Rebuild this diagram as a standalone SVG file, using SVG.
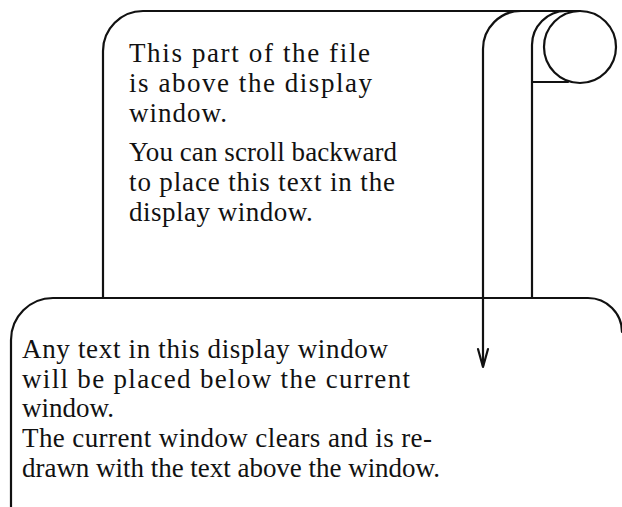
<svg xmlns="http://www.w3.org/2000/svg" width="622" height="507" viewBox="0 0 622 507">
<style>
.ln{fill:none;stroke:#111;stroke-width:2.2;stroke-linecap:round;stroke-linejoin:round}
.t{font-family:"Liberation Serif","Times New Roman",serif;font-size:27px;fill:#111}
</style>
<rect width="622" height="507" fill="#fff"/>
<g id="scroll-top">
<path class="ln" d="M103,298 V51 A40,40 0 0 1 143,11 H580"/>
<circle class="ln" cx="580" cy="47" r="36"/>
<path class="ln" d="M532,298 V45 A34,34 0 0 1 566,11"/>
<path class="ln" d="M532,82 H568"/>
<text class="t" x="129" y="62" textLength="241" lengthAdjust="spacing">This part of the file</text>
<text class="t" x="129" y="92" textLength="243" lengthAdjust="spacing">is above the display</text>
<text class="t" x="129" y="122" letter-spacing="1">window.</text>
<text class="t" x="129" y="161" textLength="268" lengthAdjust="spacing">You can scroll backward</text>
<text class="t" x="129" y="191" textLength="266" lengthAdjust="spacing">to place this text in the</text>
<text class="t" x="129" y="221" letter-spacing="0.5">display window.</text>
</g>
<g id="display-window">
<path class="ln" d="M11,507 V340 A42,42 0 0 1 53,298 H588 A34,34 0 0 1 622,332"/>
<text class="t" x="22" y="358" textLength="366" lengthAdjust="spacing">Any text in this display window</text>
<text class="t" x="22" y="388" textLength="388" lengthAdjust="spacing">will be placed below the current</text>
<text class="t" x="22" y="417">window.</text>
<text class="t" x="22" y="447" textLength="410" lengthAdjust="spacing">The current window clears and is re-</text>
<text class="t" x="22" y="477" textLength="418" lengthAdjust="spacing">drawn with the text above the window.</text>
</g>
<g id="connectors">
<path class="ln" d="M483,366 V49 A38,38 0 0 1 521,11"/>
<path class="ln" d="M478,349 L483,367 L488,349"/>
</g>
</svg>
